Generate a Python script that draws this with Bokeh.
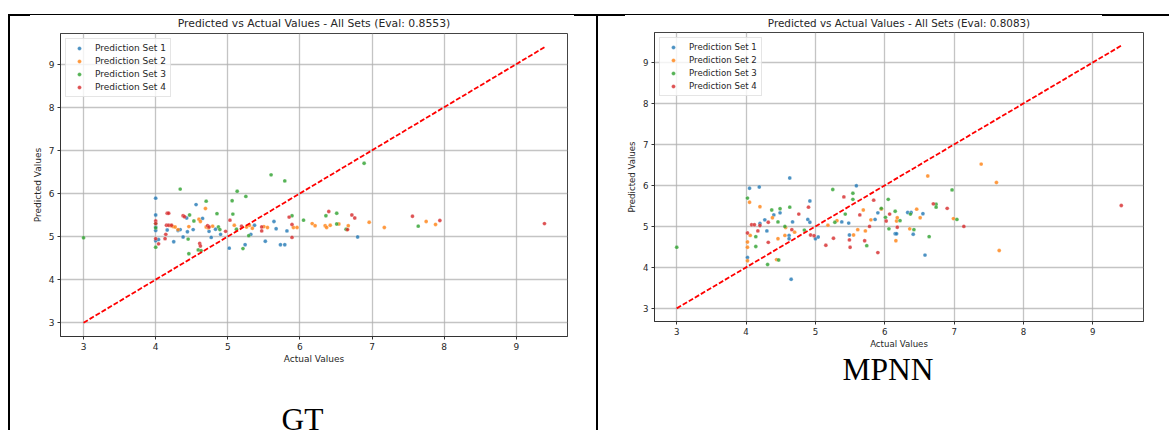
from bokeh.plotting import figure
from bokeh.models import Range1d, FixedTicker, Legend, LegendItem, Div, Spacer
from bokeh.core.properties import value
from bokeh.layouts import row, column
from bokeh.embed import file_html
from bokeh.resources import INLINE

# ---------------- data ----------------
series_names = ["Prediction Set 1", "Prediction Set 2", "Prediction Set 3", "Prediction Set 4"]
series_colors = ["#1f77b4", "#ff7f0e", "#2ca02c", "#d62728"]
axis_ticks = [3, 4, 5, 6, 7, 8, 9]

gt_title = "Predicted vs Actual Values - All Sets (Eval: 0.8553)"
mpnn_title = "Predicted vs Actual Values - All Sets (Eval: 0.8083)"
gt_caption = "GT"
mpnn_caption = "MPNN"

# GT panel (left)
gt1_x = [4.00, 4.00, 4.00, 4.00, 4.00, 4.04, 4.16, 4.25, 4.31, 4.34, 4.38, 4.43, 4.44, 4.52, 4.56, 4.65,
         4.74, 4.77, 4.83, 4.90, 5.02, 5.24, 5.32, 5.37, 5.52, 5.64, 5.67, 5.73, 5.79, 5.82, 6.80]
gt1_y = [5.89, 5.50, 5.22, 5.14, 4.90, 4.93, 5.15, 4.88, 5.14, 5.16, 4.99, 5.43, 5.11, 5.16, 5.74, 5.42,
         5.12, 4.98, 5.17, 5.05, 4.73, 4.81, 5.05, 5.26, 4.89, 5.35, 5.18, 4.81, 4.81, 5.13, 4.99]
gt2_x = [4.21, 4.24, 4.27, 4.31, 4.46, 4.60, 4.62, 4.69, 4.70, 4.73, 4.79, 5.09, 5.26, 5.30, 5.34, 5.50,
         5.55, 5.91, 5.96, 6.17, 6.21, 6.35, 6.37, 6.42, 6.54, 6.65, 6.67, 6.96, 7.17, 7.75, 7.88]
gt2_y = [5.25, 5.23, 5.22, 5.16, 5.23, 5.40, 5.35, 5.65, 5.22, 5.20, 5.24, 5.26, 5.22, 5.26, 5.19, 5.23,
         5.21, 5.21, 5.21, 5.30, 5.25, 5.25, 5.21, 5.26, 5.29, 5.16, 5.25, 5.33, 5.21, 5.35, 5.28]
gt3_x = [3.00, 4.00, 4.00, 4.00, 4.34, 4.45, 4.46, 4.47, 4.53, 4.59, 4.63, 4.70, 4.85, 4.87, 4.89, 5.06,
         5.07, 5.12, 5.13, 5.21, 5.25, 5.29, 5.60, 5.79, 5.89, 6.05, 6.36, 6.51, 6.51, 6.64, 6.89, 7.64]
gt3_y = [4.97, 5.30, 5.20, 4.75, 6.10, 4.94, 4.60, 5.50, 5.36, 4.69, 4.67, 5.82, 5.53, 5.22, 5.16, 5.83,
         5.52, 5.17, 6.05, 4.72, 5.93, 5.02, 6.43, 6.29, 5.48, 5.38, 5.48, 5.54, 5.29, 5.17, 6.70, 5.24]
gt4_x = [4.00, 4.00, 4.00, 4.04, 4.13, 4.14, 4.16, 4.18, 4.15, 4.18, 4.22, 4.38, 4.40, 4.61, 4.62, 4.72,
         4.74, 4.97, 5.03, 5.19, 5.47, 5.47, 5.85, 5.89, 5.89, 6.40, 6.66, 6.72, 6.76, 7.56, 7.94, 9.39]
gt4_y = [5.36, 5.30, 4.95, 4.83, 4.95, 5.05, 5.54, 5.54, 5.26, 5.26, 5.26, 5.48, 5.46, 4.84, 4.78, 5.25,
         5.22, 5.12, 5.38, 5.24, 5.22, 5.13, 5.45, 5.28, 4.98, 5.58, 5.16, 5.50, 5.43, 5.47, 5.37, 5.30]

# MPNN panel (right)
mp1_x = [4.02, 4.05, 4.19, 4.20, 4.27, 4.30, 4.40, 4.49, 4.62, 4.62, 4.63, 4.65, 4.67, 4.89, 4.92, 4.92,
         5.00, 5.04, 5.38, 5.48, 5.49, 5.59, 5.86, 5.90, 6.15, 6.17, 6.33, 6.38, 6.41, 6.55, 6.58]
mp1_y = [4.24, 5.93, 5.96, 5.07, 5.16, 4.89, 5.28, 5.33, 4.78, 4.70, 6.18, 3.71, 5.11, 5.17, 5.10, 5.62,
         4.70, 4.74, 5.11, 5.08, 4.79, 5.99, 5.17, 5.33, 4.82, 4.82, 5.34, 5.34, 4.81, 5.31, 4.30]
mp2_x = [4.02, 4.02, 4.02, 4.05, 4.06, 4.20, 4.38, 4.44, 4.46, 4.56, 4.57, 4.70, 5.18, 5.31, 5.55, 5.61,
         5.69, 5.72, 5.80, 5.95, 6.16, 6.17, 6.18, 6.36, 6.46, 6.51, 6.62, 6.99, 7.39, 7.61, 7.65]
mp2_y = [4.62, 4.49, 4.16, 5.59, 4.78, 5.48, 5.21, 4.19, 4.70, 4.78, 4.97, 4.86, 5.03, 5.14, 4.79, 4.92,
         5.40, 4.89, 5.16, 5.42, 4.65, 5.13, 5.21, 4.94, 5.42, 5.21, 6.23, 5.19, 6.52, 6.07, 4.41]
mp3_x = [3.00, 4.02, 4.14, 4.14, 4.31, 4.37, 4.46, 4.47, 4.49, 4.56, 4.63, 4.84, 5.25, 5.28, 5.43, 5.54,
         5.54, 5.74, 5.95, 6.01, 6.05, 6.06, 6.15, 6.22, 6.37, 6.42, 6.64, 6.74, 6.74, 6.97, 7.04]
mp3_y = [4.49, 5.69, 4.75, 4.51, 4.07, 5.40, 5.11, 4.18, 5.43, 5.00, 5.47, 4.91, 5.90, 5.10, 5.30, 5.81,
         5.66, 4.53, 5.44, 5.22, 5.66, 4.94, 5.37, 5.14, 5.30, 4.92, 4.75, 5.54, 5.47, 5.89, 5.17]
mp4_x = [4.02, 4.08, 4.12, 4.17, 4.20, 4.32, 4.32, 4.66, 4.76, 4.90, 4.93, 4.98, 5.15, 5.26, 5.41, 5.49,
         5.50, 5.64, 5.71, 5.78, 5.84, 5.90, 6.02, 6.07, 6.18, 6.70, 6.90, 7.14, 9.41]
mp4_y = [4.84, 5.04, 5.04, 4.89, 5.02, 5.10, 4.61, 4.92, 5.30, 5.47, 4.79, 4.77, 4.54, 4.71, 5.72, 4.67,
         4.49, 5.28, 4.65, 5.00, 5.64, 4.36, 5.13, 5.30, 4.98, 5.55, 5.44, 5.00, 5.51]

gt_sets = [(gt1_x, gt1_y), (gt2_x, gt2_y), (gt3_x, gt3_y), (gt4_x, gt4_y)]
mp_sets = [(mp1_x, mp1_y), (mp2_x, mp2_y), (mp3_x, mp3_y), (mp4_x, mp4_y)]

FONT = "DejaVu Sans"
TXT = "#262626"


def text_strip(width, height, bl, br, tx, ty, txt, font, size, color, baseline):
    """A figure whose frame is a plain text band (no axes)."""
    fw = width - bl - br
    s = figure(width=width, height=height, output_backend="svg", toolbar_location=None,
               x_range=Range1d(0, fw), y_range=Range1d(0, height),
               x_axis_type=None, y_axis_type=None,
               min_border_left=bl, min_border_right=br, min_border_top=0, min_border_bottom=0,
               outline_line_color=None, background_fill_color="white",
               border_fill_color="white", margin=0)
    s.grid.visible = False
    s.text(x=[tx], y=[ty], text=[txt], text_font=value(font), text_font_size=value(size),
           text_color=color, text_align="center", text_baseline=baseline)
    return s


def make_chart(sets, width, height, mb, fs):
    allx = [v for xs, _ in sets for v in xs]
    ally = [v for _, ys in sets for v in ys]
    lo = min(min(allx), min(ally))
    hi = max(max(allx), max(ally))
    pad = 0.05 * (hi - lo)
    p = figure(width=width, height=height, output_backend="svg", toolbar_location=None,
               x_range=Range1d(lo - pad, hi + pad), y_range=Range1d(lo - pad, hi + pad),
               min_border_left=mb[0], min_border_right=mb[1],
               min_border_top=mb[2], min_border_bottom=mb[3],
               background_fill_color="white", border_fill_color="white",
               outline_line_color="#444444", outline_line_width=1, margin=0)

    for ax in (p.xaxis[0], p.yaxis[0]):
        ax.ticker = FixedTicker(ticks=axis_ticks)
        ax.major_label_text_font = FONT
        ax.major_label_text_font_size = f"{fs}px"
        ax.major_label_text_color = TXT
        ax.axis_label_text_font = FONT
        ax.axis_label_text_font_size = f"{fs}px"
        ax.axis_label_text_font_style = "normal"
        ax.axis_label_text_color = TXT
        ax.axis_line_color = "#333333"
        ax.major_tick_line_color = "#333333"
        ax.major_tick_in = 0
        ax.major_tick_out = 3
        ax.minor_tick_line_color = None
        ax.major_label_standoff = 3
        ax.axis_label_standoff = 3
    p.xaxis.axis_label = "Actual Values"
    p.xaxis.axis_label_standoff = 1
    p.yaxis.axis_label = "Predicted Values"

    for g in (p.xgrid[0], p.ygrid[0]):
        g.ticker = FixedTicker(ticks=axis_ticks)
        g.grid_line_color = "#b0b0b0"
        g.grid_line_alpha = 0.75
        g.grid_line_width = 1.3

    items = []
    for (xs, ys), name, col in zip(sets, series_names, series_colors):
        r = p.scatter(xs, ys, size=3.9, fill_color=col, fill_alpha=0.8,
                      line_color="white", line_alpha=0.6, line_width=0.4)
        items.append(LegendItem(label=name, renderers=[r]))

    p.line([lo, hi], [lo, hi], line_color="#ff0000", line_width=1.8, line_dash="5 2")

    legend = Legend(items=items, location="top_left", margin=5, padding=4, spacing=3,
                    glyph_width=18, glyph_height=10, label_height=10, label_standoff=7,
                    label_text_font=FONT, label_text_font_size=f"{fs}px", label_text_color=TXT,
                    border_line_color="#cccccc", border_line_width=1,
                    background_fill_color="white", background_fill_alpha=0.8)
    p.add_layout(legend)
    return p


# left panel: 586 wide; page y 16..430
L_W, L_BL, L_BR = 586, 50, 29
l_title = text_strip(L_W, 17, L_BL, L_BR, (L_W - L_BL - L_BR) / 2, 10.0, gt_title,
                     FONT, "10.8px", TXT, "middle")
l_chart = make_chart(gt_sets, L_W, 335, (L_BL, L_BR, 0, 32), 9)
l_cap = text_strip(L_W, 62, L_BL, L_BR, 242, 11, gt_caption,
                   "Liberation Serif", "31.5px", "black", "alphabetic")

# right panel: 571 wide
R_W, R_BL, R_BR = 571, 56, 26
r_title = text_strip(R_W, 16, R_BL, R_BR, (R_W - R_BL - R_BR) / 2, 10, mpnn_title,
                     FONT, "10.4px", TXT, "middle")
r_chart = make_chart(mp_sets, R_W, 321, (R_BL, R_BR, 0, 32), 8.6)
r_cap = text_strip(R_W, 77, R_BL, R_BR, 233.5, 61, mpnn_caption,
                   "Liberation Serif", "31.5px", "black", "alphabetic")

H = 414


def seg(w, thick):
    if thick:
        st = {"background-color": "#000000"}
    else:
        st = {"background": "linear-gradient(to bottom, #000 0px, #000 1px, #fff 1px, #fff 2px)"}
    return Div(text="", width=w, height=2, styles=st, margin=0)


def vline(h):
    return Div(text="", width=2, height=h, styles={"background-color": "#000000"}, margin=0)


top_line = row(Spacer(width=8, height=2, margin=0),
               seg(22, True), seg(544, False), seg(51, True), seg(477, False), seg(67, True),
               spacing=0, margin=0)
left_col = column(l_title, l_chart, l_cap, spacing=0, margin=0)
right_col = column(r_title, r_chart, r_cap, spacing=0, margin=0)
main_row = row(Spacer(width=8, height=H, margin=0), vline(H), left_col, vline(H), right_col,
               spacing=0, margin=0)
layout = column(Spacer(width=1169, height=14, margin=0), top_line, main_row,
                spacing=0, margin=0)

open("out.html", "w").write(file_html(layout, INLINE))
